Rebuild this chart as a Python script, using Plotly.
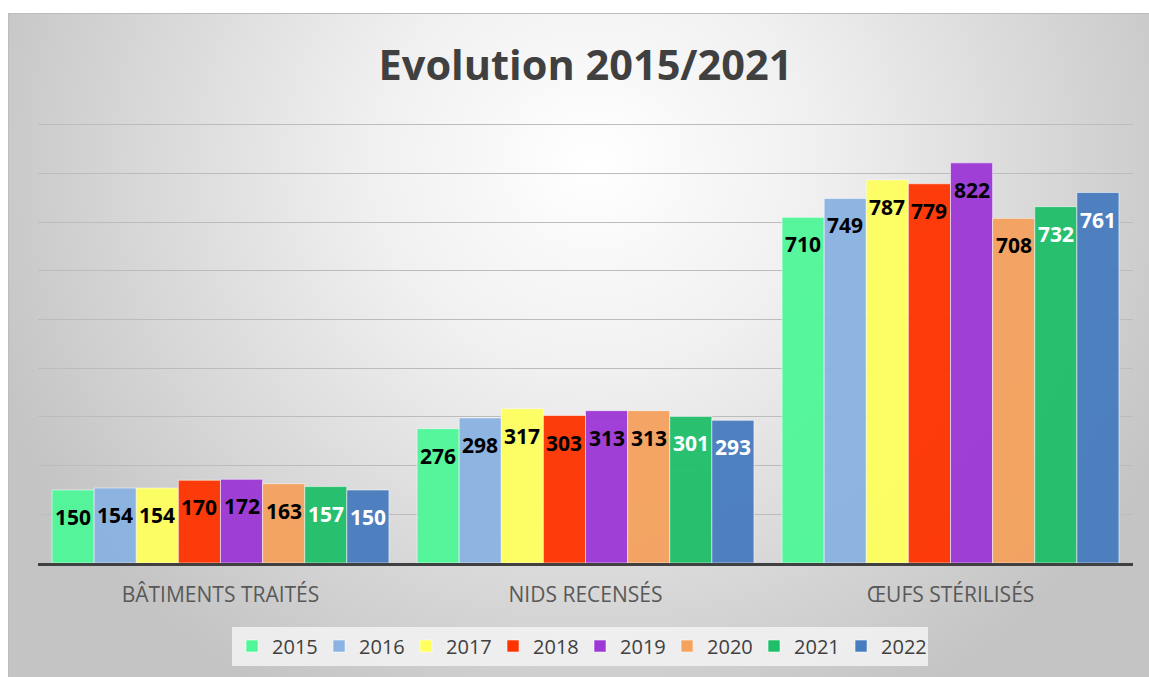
import base64
import plotly.graph_objects as go

categories = ["BÂTIMENTS TRAITÉS", "NIDS RECENSÉS", "ŒUFS STÉRILISÉS"]
years = ["2015", "2016", "2017", "2018", "2019", "2020", "2021", "2022"]
v2015 = [150, 276, 710]
v2016 = [154, 298, 749]
v2017 = [154, 317, 787]
v2018 = [170, 303, 779]
v2019 = [172, 313, 822]
v2020 = [163, 313, 708]
v2021 = [157, 301, 732]
v2022 = [150, 293, 761]
series = [v2015, v2016, v2017, v2018, v2019, v2020, v2021, v2022]
colors = ["#4FF799", "#8AB2E2", "#FFFF5E", "#FF3300", "#9D37D6", "#F5A25E", "#1FBF69", "#477CBF"]
label_colors = ["#000000"] * 6 + ["#FFFFFF"] * 2

W, H = 1149, 677
L, R, T, B = 38, 16, 120, 114
BARGAP = 0.077

fig = go.Figure()
for y, vals, col in zip(years, series, colors):
    fig.add_trace(go.Bar(
        x=categories, y=vals, name=y,
        marker=dict(color=col, opacity=0.95,
                    line=dict(color="rgba(255,255,255,0.55)", width=1)),
        hoverinfo="x+y+name",
    ))

# data labels inside bars, near the top
n = len(series)
bw = (1 - BARGAP) / n
annotations = []
for j, (vals, lc) in enumerate(zip(series, label_colors)):
    off = -(1 - BARGAP) / 2 + (j + 0.5) * bw
    for i, v in enumerate(vals):
        annotations.append(dict(
            x=i + off, y=v, xref="x", yref="y", text=str(v), showarrow=False,
            yshift=-27, yanchor="middle", xanchor="center",
            font=dict(family="Open Sans", size=21, color=lc, weight="bold"),
        ))

# background: radial gradient panel with light border
fx, fy = 8, 13
pw, ph = W - fx, H - fy
svg = f'''<svg xmlns="http://www.w3.org/2000/svg" width="{pw}" height="{ph}" viewBox="0 0 {pw} {ph}" preserveAspectRatio="none">
<defs><radialGradient id="g" gradientUnits="userSpaceOnUse" cx="585" cy="150" r="640" gradientTransform="translate(585 150) scale(1 0.95) translate(-585 -150)">
<stop offset="0" stop-color="#ffffff"/><stop offset="0.35" stop-color="#f0f0f0"/><stop offset="1" stop-color="#c4c4c4"/></radialGradient></defs>
<rect x="0" y="0" width="{pw}" height="{ph}" fill="url(#g)"/>
<path d="M0.5,{ph} V0.5 H{pw}" fill="none" stroke="#bdbdbd" stroke-width="1"/>
</svg>'''
src = "data:image/svg+xml;base64," + base64.b64encode(svg.encode()).decode()
plot_w = W - L - R
plot_h = H - T - B
fig.add_layout_image(dict(
    source=src, xref="paper", yref="paper",
    x=(fx - L) / plot_w, y=(H - B - fy) / plot_h,
    sizex=pw / plot_w, sizey=ph / plot_h, xanchor="left", yanchor="top",
    sizing="stretch", layer="below",
))

fig.update_layout(
    width=W, height=H,
    margin=dict(l=L, r=R, t=T, b=B),
    paper_bgcolor="#ffffff", plot_bgcolor="rgba(0,0,0,0)",
    barmode="group", bargap=BARGAP, bargroupgap=0,
    title=dict(text="<b>Evolution 2015/2021</b>", x=0.5, xref="paper",
               y=1 - 65 / H, yref="container", yanchor="middle", xanchor="center",
               font=dict(family="Open Sans", size=41.5, color="#404040")),
    font=dict(family="Open Sans", color="#595959"),
    showlegend=True,
    legend=dict(orientation="h", x=0.495, xanchor="center", y=(H - B - 646) / plot_h,
                yanchor="middle", bgcolor="rgba(243,243,243,0.85)",
                font=dict(family="Open Sans", size=20, color="#404040"),
                entrywidth=42, entrywidthmode="pixels", itemclick=False),
    annotations=annotations,
    xaxis=dict(showgrid=False, showline=True, linecolor="#404040", linewidth=3,
               ticks="", tickfont=dict(family="Open Sans", size=21, color="#595959"),
               ticklabelstandoff=11, fixedrange=True),
    yaxis=dict(range=[0, 910], tickvals=[100, 200, 300, 400, 500, 600, 700, 800, 900],
               showgrid=True, gridcolor="#bcbcbc", gridwidth=1,
               showticklabels=False, zeroline=False, showline=False, fixedrange=True),
)

fig.write_html("out.html", config={"displayModeBar": False},
               post_script="document.body.style.margin='0';document.body.style.overflow='hidden';")
